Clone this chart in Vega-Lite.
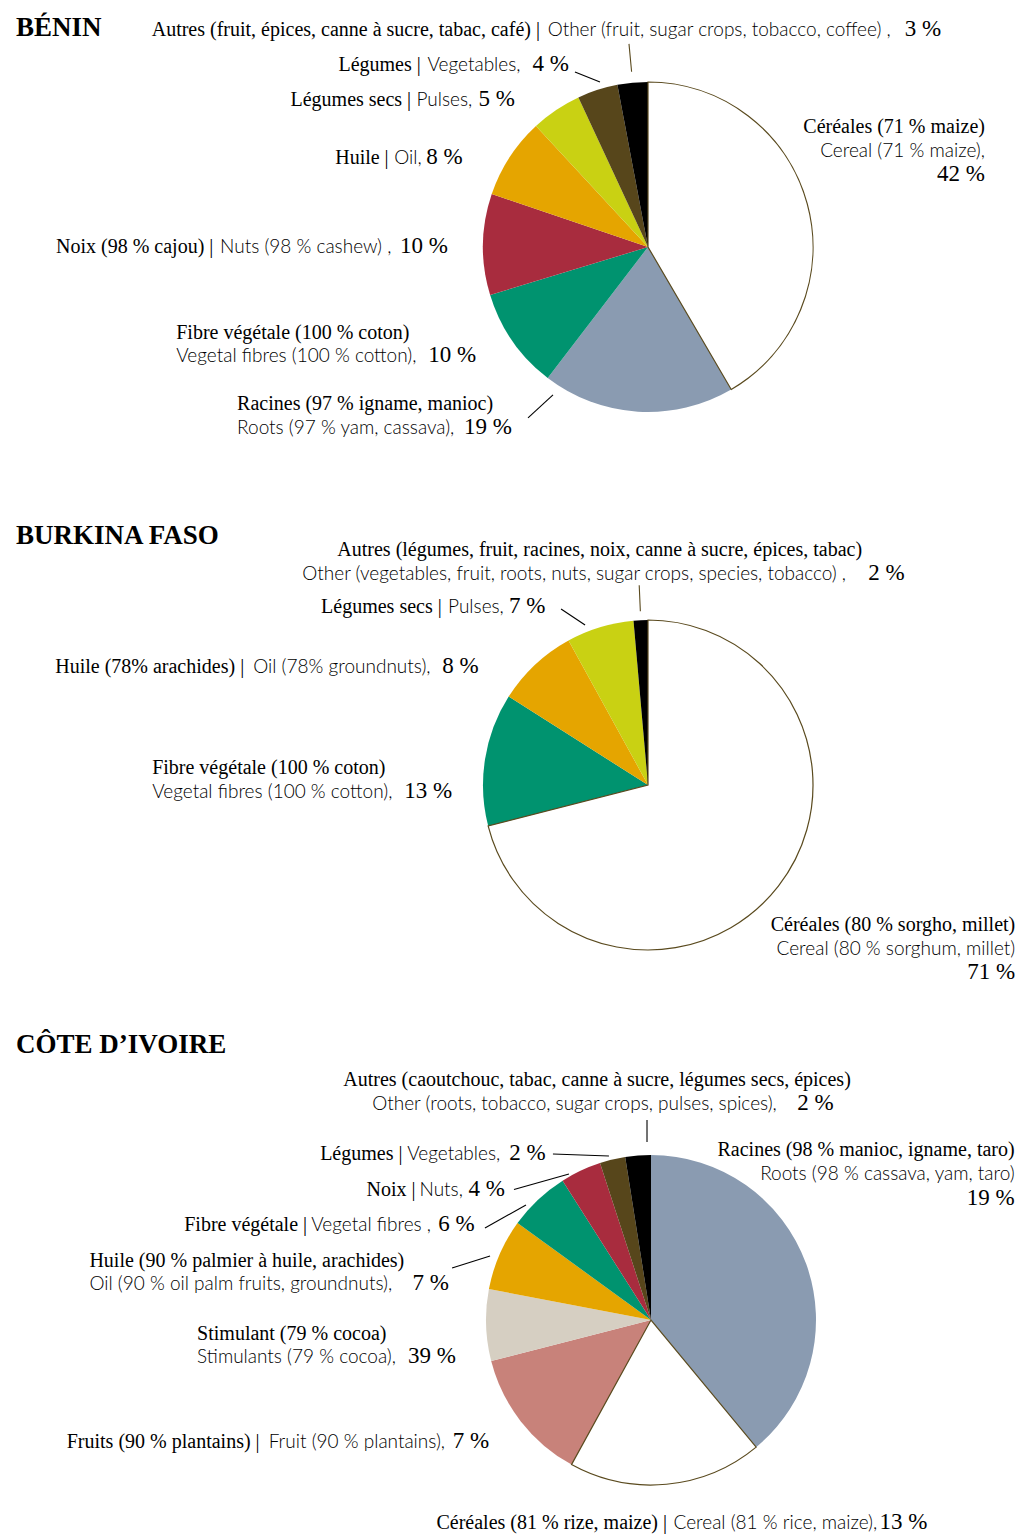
{
"$schema": "https://vega.github.io/schema/vega-lite/v6.json",
"width": 1018, "height": 1537, "padding": 0, "autosize": {"type": "none"},
"background": "white",
"config": {"view": {"stroke": null},
 "style": {
  "fr": {"font": "Liberation Serif", "fontSize": 20, "fill": "#161616", "align": "left", "baseline": "alphabetic"},
  "frR": {"font": "Liberation Serif", "fontSize": 20, "fill": "#161616", "align": "right", "baseline": "alphabetic"},
  "en": {"font": "Lato", "fontSize": 19, "fontWeight": 300, "fill": "#1c1c1c", "align": "left", "baseline": "alphabetic"},
  "enR": {"font": "Lato", "fontSize": 19, "fontWeight": 300, "fill": "#1c1c1c", "align": "right", "baseline": "alphabetic"},
  "pct": {"font": "Liberation Serif", "fontSize": 23, "fill": "#161616", "align": "left", "baseline": "alphabetic"},
  "pctR": {"font": "Liberation Serif", "fontSize": 23, "fill": "#161616", "align": "right", "baseline": "alphabetic"},
  "ttl": {"font": "Liberation Serif", "fontSize": 27, "fontWeight": "bold", "fill": "#111111", "align": "left", "baseline": "alphabetic"},
  "lead": {"stroke": "#5a4a1e", "strokeWidth": 1.1}
 }},
"datasets": {
 "benin": [
  {"rank": 1, "cat": "Céréales", "value": 42, "fr": "Céréales (71 % maize)", "en": "Cereal (71 % maize),", "pct": "42 %"},
  {"rank": 2, "cat": "Racines", "value": 19, "fr": "Racines (97 % igname, manioc)", "en": "Roots (97 % yam, cassava),", "pct": "19 %"},
  {"rank": 3, "cat": "Fibre", "value": 10, "fr": "Fibre végétale (100 % coton)", "en": "Vegetal fibres (100 % cotton),", "pct": "10 %"},
  {"rank": 4, "cat": "Noix", "value": 10, "fr": "Noix (98 % cajou) |", "en": "Nuts (98 % cashew) ,", "pct": "10 %"},
  {"rank": 5, "cat": "Huile", "value": 8, "fr": "Huile |", "en": "Oil,", "pct": "8 %"},
  {"rank": 6, "cat": "Légumes secs", "value": 5, "fr": "Légumes secs |", "en": "Pulses,", "pct": "5 %"},
  {"rank": 7, "cat": "Légumes", "value": 4, "fr": "Légumes |", "en": "Vegetables,", "pct": "4 %"},
  {"rank": 8, "cat": "Autres", "value": 3, "fr": "Autres (fruit, épices, canne à sucre, tabac, café) |", "en": "Other (fruit, sugar crops, tobacco, coffee) ,", "pct": "3 %"}
 ],
 "burkina": [
  {"rank": 1, "cat": "Céréales", "value": 71, "fr": "Céréales (80 % sorgho, millet)", "en": "Cereal (80 % sorghum, millet)", "pct": "71 %"},
  {"rank": 2, "cat": "Fibre", "value": 13, "fr": "Fibre végétale (100 % coton)", "en": "Vegetal fibres (100 % cotton),", "pct": "13 %"},
  {"rank": 3, "cat": "Huile", "value": 8, "fr": "Huile (78% arachides) |", "en": "Oil (78% groundnuts),", "pct": "8 %"},
  {"rank": 4, "cat": "Légumes secs", "value": 6.6, "fr": "Légumes secs |", "en": "Pulses,", "pct": "7 %"},
  {"rank": 5, "cat": "Autres", "value": 1.4, "fr": "Autres (légumes, fruit, racines, noix,  canne à sucre, épices, tabac)", "en": "Other (vegetables, fruit, roots, nuts, sugar crops, species, tobacco) ,", "pct": "2 %"}
 ],
 "ci": [
  {"rank": 1, "cat": "Racines", "value": 39, "fr": "Racines (98 % manioc, igname, taro)", "en": "Roots (98 % cassava, yam, taro)", "pct": "19 %"},
  {"rank": 2, "cat": "Céréales", "value": 19, "fr": "Céréales (81 % rize, maize) |", "en": "Cereal (81 % rice, maize),", "pct": "13 %"},
  {"rank": 3, "cat": "Fruits", "value": 13, "fr": "Fruits (90 % plantains) |", "en": "Fruit (90 % plantains),", "pct": "7 %"},
  {"rank": 4, "cat": "Stimulant", "value": 7, "fr": "Stimulant (79 % cocoa)", "en": "Stimulants (79 % cocoa),", "pct": "39 %"},
  {"rank": 5, "cat": "Huile", "value": 7, "fr": "Huile (90 % palmier à huile, arachides)", "en": "Oil (90 %  oil palm fruits, groundnuts),", "pct": "7 %"},
  {"rank": 6, "cat": "Fibre", "value": 6, "fr": "Fibre végétale |", "en": "Vegetal fibres ,", "pct": "6 %"},
  {"rank": 7, "cat": "Noix", "value": 4, "fr": "Noix |", "en": "Nuts,", "pct": "4 %"},
  {"rank": 8, "cat": "Légumes", "value": 2.5, "fr": "Légumes |", "en": "Vegetables,", "pct": "2 %"},
  {"rank": 9, "cat": "Autres", "value": 2.5, "fr": "Autres (caoutchouc, tabac,  canne à sucre, légumes secs, épices)", "en": "Other (roots, tobacco, sugar crops, pulses, spices),", "pct": "2 %"}
 ]
},
"resolve": {"scale": {"theta": "independent"}},
"layer": [
 {"data": {"values": [{"t": "BÉNIN"}]}, "mark": {"type": "text", "style": "ttl", "x": 16, "y": 36}, "encoding": {"text": {"field": "t"}}},
 {"data": {"values": [{"t": "BURKINA FASO"}]}, "mark": {"type": "text", "style": "ttl", "x": 16, "y": 544}, "encoding": {"text": {"field": "t"}}},
 {"data": {"values": [{"t": "CÔTE D’IVOIRE"}]}, "mark": {"type": "text", "style": "ttl", "x": 16, "y": 1053}, "encoding": {"text": {"field": "t"}}},
 {
  "data": {"name": "benin"},
  "transform": [
   {"stack": "value", "groupby": [], "sort": [{"field": "rank", "order": "ascending"}], "as": ["v0", "v1"]},
   {"calculate": "(datum.v0 + datum.v1) / 2", "as": "mid"},
   {"joinaggregate": [{"op": "sum", "field": "value", "as": "tot"}]},
   {"calculate": "648 + 172 * sin(2 * PI * datum.mid / datum.tot)", "as": "sx"},
   {"calculate": "247 - 172 * cos(2 * PI * datum.mid / datum.tot)", "as": "sy"}
  ],
  "layer": [
   {"mark": {"type": "arc", "x": 648, "y": 247, "radius": 165},
    "encoding": {"theta": {"field": "v1", "type": "quantitative", "stack": null}, "theta2": {"field": "v0"},
     "color": {"field": "cat", "type": "nominal", "legend": null,
      "scale": {"domain": ["Céréales", "Racines", "Fibre", "Noix", "Huile", "Légumes secs", "Légumes", "Autres", "Stimulant", "Fruits"],
       "range": ["#ffffff", "#8a9bb1", "#00936f", "#a82c3e", "#e5a500", "#c9d113", "#57461b", "#000000", "#d6cfc2", "#c8827a"]}}}},
   {"transform": [{"filter": "datum.cat === 'Céréales'"}],
    "mark": {"type": "arc", "x": 648, "y": 247, "radius": 165, "fill": "transparent", "stroke": "#5a4a1e", "strokeWidth": 1.2},
    "encoding": {"theta": {"field": "v1", "type": "quantitative", "stack": null}, "theta2": {"field": "v0"}}},
   {"transform": [{"filter": "datum.cat === 'Autres'"}],
    "mark": {"type": "arc", "x": 648, "y": 247, "radius": 204, "radius2": 176, "fill": "transparent", "stroke": "#5a4a1e", "strokeWidth": 1.1},
    "encoding": {"theta": {"field": "mid", "type": "quantitative", "stack": null}, "theta2": {"field": "mid"}}},
   {"transform": [{"filter": "datum.cat === 'Légumes'"}],
    "mark": {"type": "rule", "style": "lead", "xOffset": 4.6, "yOffset": -1.3, "x2Offset": -20.4, "y2Offset": -11.3},
    "encoding": {"x": {"field": "sx", "type": "quantitative", "scale": null}, "y": {"field": "sy", "type": "quantitative", "scale": null}, "x2": {"field": "sx"}, "y2": {"field": "sy"}}},
   {"transform": [{"filter": "datum.cat === 'Racines'"}],
    "mark": {"type": "rule", "style": "lead", "xOffset": -84.3, "yOffset": -23.7, "x2Offset": -109.3, "y2Offset": -0.7},
    "encoding": {"x": {"field": "sx", "type": "quantitative", "scale": null}, "y": {"field": "sy", "type": "quantitative", "scale": null}, "x2": {"field": "sx"}, "y2": {"field": "sy"}}},

   {"transform": [{"filter": "datum.cat === 'Céréales'"}], "mark": {"type": "text", "style": "frR", "x": 648, "y": 247, "radius": 175, "dx": 168, "dy": -68}, "encoding": {"theta": {"field": "mid", "type": "quantitative", "stack": null}, "text": {"field": "fr"}}},
   {"transform": [{"filter": "datum.cat === 'Céréales'"}], "mark": {"type": "text", "style": "enR", "x": 648, "y": 247, "radius": 175, "dx": 168, "dy": -44}, "encoding": {"theta": {"field": "mid", "type": "quantitative", "stack": null}, "text": {"field": "en"}}},
   {"transform": [{"filter": "datum.cat === 'Céréales'"}], "mark": {"type": "text", "style": "pctR", "x": 648, "y": 247, "radius": 175, "dx": 168, "dy": -20}, "encoding": {"theta": {"field": "mid", "type": "quantitative", "stack": null}, "text": {"field": "pct"}}},

   {"transform": [{"filter": "datum.cat === 'Racines'"}], "mark": {"type": "text", "style": "fr", "x": 648, "y": 247, "radius": 175, "dx": -400, "dy": -12}, "encoding": {"theta": {"field": "mid", "type": "quantitative", "stack": null}, "text": {"field": "fr"}}},
   {"transform": [{"filter": "datum.cat === 'Racines'"}], "mark": {"type": "text", "style": "en", "x": 648, "y": 247, "radius": 175, "dx": -400, "dy": 12}, "encoding": {"theta": {"field": "mid", "type": "quantitative", "stack": null}, "text": {"field": "en"}}},
   {"transform": [{"filter": "datum.cat === 'Racines'"}], "mark": {"type": "text", "style": "pct", "x": 648, "y": 247, "radius": 175, "dx": -173, "dy": 12}, "encoding": {"theta": {"field": "mid", "type": "quantitative", "stack": null}, "text": {"field": "pct"}}},

   {"transform": [{"filter": "datum.cat === 'Fibre'"}], "mark": {"type": "text", "style": "fr", "x": 648, "y": 247, "radius": 175, "dx": -328, "dy": -8}, "encoding": {"theta": {"field": "mid", "type": "quantitative", "stack": null}, "text": {"field": "fr"}}},
   {"transform": [{"filter": "datum.cat === 'Fibre'"}], "mark": {"type": "text", "style": "en", "x": 648, "y": 247, "radius": 175, "dx": -328, "dy": 15}, "encoding": {"theta": {"field": "mid", "type": "quantitative", "stack": null}, "text": {"field": "en"}}},
   {"transform": [{"filter": "datum.cat === 'Fibre'"}], "mark": {"type": "text", "style": "pct", "x": 648, "y": 247, "radius": 175, "dx": -76, "dy": 15}, "encoding": {"theta": {"field": "mid", "type": "quantitative", "stack": null}, "text": {"field": "pct"}}},

   {"transform": [{"filter": "datum.cat === 'Noix'"}], "mark": {"type": "text", "style": "fr", "x": 648, "y": 247, "radius": 175, "dx": -417, "dy": 9}, "encoding": {"theta": {"field": "mid", "type": "quantitative", "stack": null}, "text": {"field": "fr"}}},
   {"transform": [{"filter": "datum.cat === 'Noix'"}], "mark": {"type": "text", "style": "en", "x": 648, "y": 247, "radius": 175, "dx": -253, "dy": 9}, "encoding": {"theta": {"field": "mid", "type": "quantitative", "stack": null}, "text": {"field": "en"}}},
   {"transform": [{"filter": "datum.cat === 'Noix'"}], "mark": {"type": "text", "style": "pct", "x": 648, "y": 247, "radius": 175, "dx": -73, "dy": 9}, "encoding": {"theta": {"field": "mid", "type": "quantitative", "stack": null}, "text": {"field": "pct"}}},

   {"transform": [{"filter": "datum.cat === 'Huile'"}], "mark": {"type": "text", "style": "fr", "x": 648, "y": 247, "radius": 175, "dx": -166, "dy": 12}, "encoding": {"theta": {"field": "mid", "type": "quantitative", "stack": null}, "text": {"field": "fr"}}},
   {"transform": [{"filter": "datum.cat === 'Huile'"}], "mark": {"type": "text", "style": "en", "x": 648, "y": 247, "radius": 175, "dx": -107, "dy": 12}, "encoding": {"theta": {"field": "mid", "type": "quantitative", "stack": null}, "text": {"field": "en"}}},
   {"transform": [{"filter": "datum.cat === 'Huile'"}], "mark": {"type": "text", "style": "pct", "x": 648, "y": 247, "radius": 175, "dx": -75, "dy": 12}, "encoding": {"theta": {"field": "mid", "type": "quantitative", "stack": null}, "text": {"field": "pct"}}},

   {"transform": [{"filter": "datum.cat === 'Légumes secs'"}], "mark": {"type": "text", "style": "fr", "x": 648, "y": 247, "radius": 175, "dx": -260, "dy": 4}, "encoding": {"theta": {"field": "mid", "type": "quantitative", "stack": null}, "text": {"field": "fr"}}},
   {"transform": [{"filter": "datum.cat === 'Légumes secs'"}], "mark": {"type": "text", "style": "en", "x": 648, "y": 247, "radius": 175, "dx": -134, "dy": 4}, "encoding": {"theta": {"field": "mid", "type": "quantitative", "stack": null}, "text": {"field": "en"}}},
   {"transform": [{"filter": "datum.cat === 'Légumes secs'"}], "mark": {"type": "text", "style": "pct", "x": 648, "y": 247, "radius": 175, "dx": -72, "dy": 4}, "encoding": {"theta": {"field": "mid", "type": "quantitative", "stack": null}, "text": {"field": "pct"}}},

   {"transform": [{"filter": "datum.cat === 'Légumes'"}], "mark": {"type": "text", "style": "fr", "x": 648, "y": 247, "radius": 175, "dx": -256, "dy": -9}, "encoding": {"theta": {"field": "mid", "type": "quantitative", "stack": null}, "text": {"field": "fr"}}},
   {"transform": [{"filter": "datum.cat === 'Légumes'"}], "mark": {"type": "text", "style": "en", "x": 648, "y": 247, "radius": 175, "dx": -167, "dy": -9}, "encoding": {"theta": {"field": "mid", "type": "quantitative", "stack": null}, "text": {"field": "en"}}},
   {"transform": [{"filter": "datum.cat === 'Légumes'"}], "mark": {"type": "text", "style": "pct", "x": 648, "y": 247, "radius": 175, "dx": -62, "dy": -9}, "encoding": {"theta": {"field": "mid", "type": "quantitative", "stack": null}, "text": {"field": "pct"}}},

   {"transform": [{"filter": "datum.cat === 'Autres'"}], "mark": {"type": "text", "style": "fr", "x": 648, "y": 247, "radius": 175, "dx": -480, "dy": -37}, "encoding": {"theta": {"field": "mid", "type": "quantitative", "stack": null}, "text": {"field": "fr"}}},
   {"transform": [{"filter": "datum.cat === 'Autres'"}], "mark": {"type": "text", "style": "en", "x": 648, "y": 247, "radius": 175, "dx": -84, "dy": -37}, "encoding": {"theta": {"field": "mid", "type": "quantitative", "stack": null}, "text": {"field": "en"}}},
   {"transform": [{"filter": "datum.cat === 'Autres'"}], "mark": {"type": "text", "style": "pct", "x": 648, "y": 247, "radius": 175, "dx": 273, "dy": -37}, "encoding": {"theta": {"field": "mid", "type": "quantitative", "stack": null}, "text": {"field": "pct"}}}
  ]
 },
 {
  "data": {"name": "burkina"},
  "transform": [
   {"stack": "value", "groupby": [], "sort": [{"field": "rank", "order": "ascending"}], "as": ["v0", "v1"]},
   {"calculate": "(datum.v0 + datum.v1) / 2", "as": "mid"},
   {"joinaggregate": [{"op": "sum", "field": "value", "as": "tot"}]},
   {"calculate": "648 + 172 * sin(2 * PI * datum.mid / datum.tot)", "as": "sx"},
   {"calculate": "785 - 172 * cos(2 * PI * datum.mid / datum.tot)", "as": "sy"}
  ],
  "layer": [
   {"mark": {"type": "arc", "x": 648, "y": 785, "radius": 165},
    "encoding": {"theta": {"field": "v1", "type": "quantitative", "stack": null}, "theta2": {"field": "v0"},
     "color": {"field": "cat", "type": "nominal", "legend": null,
      "scale": {"domain": ["Céréales", "Racines", "Fibre", "Noix", "Huile", "Légumes secs", "Légumes", "Autres", "Stimulant", "Fruits"],
       "range": ["#ffffff", "#8a9bb1", "#00936f", "#a82c3e", "#e5a500", "#c9d113", "#57461b", "#000000", "#d6cfc2", "#c8827a"]}}}},
   {"transform": [{"filter": "datum.cat === 'Céréales'"}],
    "mark": {"type": "arc", "x": 648, "y": 785, "radius": 165, "fill": "transparent", "stroke": "#5a4a1e", "strokeWidth": 1.2},
    "encoding": {"theta": {"field": "v1", "type": "quantitative", "stack": null}, "theta2": {"field": "v0"}}},
   {"transform": [{"filter": "datum.cat === 'Autres'"}],
    "mark": {"type": "arc", "x": 648, "y": 785, "radius": 200, "radius2": 174, "fill": "transparent", "stroke": "#5a4a1e", "strokeWidth": 1.1},
    "encoding": {"theta": {"field": "mid", "type": "quantitative", "stack": null}, "theta2": {"field": "mid"}}},
   {"transform": [{"filter": "datum.cat === 'Légumes secs'"}],
    "mark": {"type": "rule", "style": "lead", "xOffset": -12.9, "yOffset": 4.6, "x2Offset": -36.9, "y2Offset": -11.4},
    "encoding": {"x": {"field": "sx", "type": "quantitative", "scale": null}, "y": {"field": "sy", "type": "quantitative", "scale": null}, "x2": {"field": "sx"}, "y2": {"field": "sy"}}},

   {"transform": [{"filter": "datum.cat === 'Céréales'"}], "mark": {"type": "text", "style": "frR", "x": 648, "y": 785, "radius": 175, "dx": 229, "dy": 39}, "encoding": {"theta": {"field": "mid", "type": "quantitative", "stack": null}, "text": {"field": "fr"}}},
   {"transform": [{"filter": "datum.cat === 'Céréales'"}], "mark": {"type": "text", "style": "enR", "x": 648, "y": 785, "radius": 175, "dx": 229, "dy": 63}, "encoding": {"theta": {"field": "mid", "type": "quantitative", "stack": null}, "text": {"field": "en"}}},
   {"transform": [{"filter": "datum.cat === 'Céréales'"}], "mark": {"type": "text", "style": "pctR", "x": 648, "y": 785, "radius": 175, "dx": 229, "dy": 87}, "encoding": {"theta": {"field": "mid", "type": "quantitative", "stack": null}, "text": {"field": "pct"}}},

   {"transform": [{"filter": "datum.cat === 'Fibre'"}], "mark": {"type": "text", "style": "fr", "x": 648, "y": 785, "radius": 175, "dx": -323, "dy": 16}, "encoding": {"theta": {"field": "mid", "type": "quantitative", "stack": null}, "text": {"field": "fr"}}},
   {"transform": [{"filter": "datum.cat === 'Fibre'"}], "mark": {"type": "text", "style": "en", "x": 648, "y": 785, "radius": 175, "dx": -323, "dy": 40}, "encoding": {"theta": {"field": "mid", "type": "quantitative", "stack": null}, "text": {"field": "en"}}},
   {"transform": [{"filter": "datum.cat === 'Fibre'"}], "mark": {"type": "text", "style": "pct", "x": 648, "y": 785, "radius": 175, "dx": -71, "dy": 40}, "encoding": {"theta": {"field": "mid", "type": "quantitative", "stack": null}, "text": {"field": "pct"}}},

   {"transform": [{"filter": "datum.cat === 'Huile'"}], "mark": {"type": "text", "style": "fr", "x": 648, "y": 785, "radius": 175, "dx": -473, "dy": 16}, "encoding": {"theta": {"field": "mid", "type": "quantitative", "stack": null}, "text": {"field": "fr"}}},
   {"transform": [{"filter": "datum.cat === 'Huile'"}], "mark": {"type": "text", "style": "en", "x": 648, "y": 785, "radius": 175, "dx": -275, "dy": 16}, "encoding": {"theta": {"field": "mid", "type": "quantitative", "stack": null}, "text": {"field": "en"}}},
   {"transform": [{"filter": "datum.cat === 'Huile'"}], "mark": {"type": "text", "style": "pct", "x": 648, "y": 785, "radius": 175, "dx": -86, "dy": 16}, "encoding": {"theta": {"field": "mid", "type": "quantitative", "stack": null}, "text": {"field": "pct"}}},

   {"transform": [{"filter": "datum.cat === 'Légumes secs'"}], "mark": {"type": "text", "style": "fr", "x": 648, "y": 785, "radius": 175, "dx": -276, "dy": -5}, "encoding": {"theta": {"field": "mid", "type": "quantitative", "stack": null}, "text": {"field": "fr"}}},
   {"transform": [{"filter": "datum.cat === 'Légumes secs'"}], "mark": {"type": "text", "style": "en", "x": 648, "y": 785, "radius": 175, "dx": -149, "dy": -5}, "encoding": {"theta": {"field": "mid", "type": "quantitative", "stack": null}, "text": {"field": "en"}}},
   {"transform": [{"filter": "datum.cat === 'Légumes secs'"}], "mark": {"type": "text", "style": "pct", "x": 648, "y": 785, "radius": 175, "dx": -88, "dy": -5}, "encoding": {"theta": {"field": "mid", "type": "quantitative", "stack": null}, "text": {"field": "pct"}}},

   {"transform": [{"filter": "datum.cat === 'Autres'"}], "mark": {"type": "text", "style": "fr", "x": 648, "y": 785, "radius": 175, "dx": -303, "dy": -54}, "encoding": {"theta": {"field": "mid", "type": "quantitative", "stack": null}, "text": {"field": "fr"}}},
   {"transform": [{"filter": "datum.cat === 'Autres'"}], "mark": {"type": "text", "style": "en", "x": 648, "y": 785, "radius": 175, "dx": -338, "dy": -30}, "encoding": {"theta": {"field": "mid", "type": "quantitative", "stack": null}, "text": {"field": "en"}}},
   {"transform": [{"filter": "datum.cat === 'Autres'"}], "mark": {"type": "text", "style": "pct", "x": 648, "y": 785, "radius": 175, "dx": 228, "dy": -30}, "encoding": {"theta": {"field": "mid", "type": "quantitative", "stack": null}, "text": {"field": "pct"}}}
  ]
 },
 {
  "data": {"name": "ci"},
  "transform": [
   {"stack": "value", "groupby": [], "sort": [{"field": "rank", "order": "ascending"}], "as": ["v0", "v1"]},
   {"calculate": "(datum.v0 + datum.v1) / 2", "as": "mid"},
   {"joinaggregate": [{"op": "sum", "field": "value", "as": "tot"}]},
   {"calculate": "651 + 172 * sin(2 * PI * datum.mid / datum.tot)", "as": "sx"},
   {"calculate": "1320 - 172 * cos(2 * PI * datum.mid / datum.tot)", "as": "sy"}
  ],
  "layer": [
   {"mark": {"type": "arc", "x": 651, "y": 1320, "radius": 165},
    "encoding": {"theta": {"field": "v1", "type": "quantitative", "stack": null}, "theta2": {"field": "v0"},
     "color": {"field": "cat", "type": "nominal", "legend": null,
      "scale": {"domain": ["Céréales", "Racines", "Fibre", "Noix", "Huile", "Légumes secs", "Légumes", "Autres", "Stimulant", "Fruits"],
       "range": ["#ffffff", "#8a9bb1", "#00936f", "#a82c3e", "#e5a500", "#c9d113", "#57461b", "#000000", "#d6cfc2", "#c8827a"]}}}},
   {"transform": [{"filter": "datum.cat === 'Céréales'"}],
    "mark": {"type": "arc", "x": 651, "y": 1320, "radius": 165, "fill": "transparent", "stroke": "#5a4a1e", "strokeWidth": 1.2},
    "encoding": {"theta": {"field": "v1", "type": "quantitative", "stack": null}, "theta2": {"field": "v0"}}},
   {"transform": [{"filter": "datum.cat === 'Autres'"}],
    "mark": {"type": "rule", "style": "lead", "xOffset": 9.5, "yOffset": -6.5, "x2Offset": 9.5, "y2Offset": -28.5},
    "encoding": {"x": {"field": "sx", "type": "quantitative", "scale": null}, "y": {"field": "sy", "type": "quantitative", "scale": null}, "x2": {"field": "sx"}, "y2": {"field": "sy"}}},
   {"transform": [{"filter": "datum.cat === 'Légumes'"}],
    "mark": {"type": "rule", "style": "lead", "xOffset": -1.9, "yOffset": 3.3, "x2Offset": -57.9, "y2Offset": 1.3},
    "encoding": {"x": {"field": "sx", "type": "quantitative", "scale": null}, "y": {"field": "sy", "type": "quantitative", "scale": null}, "x2": {"field": "sx"}, "y2": {"field": "sy"}}},
   {"transform": [{"filter": "datum.cat === 'Noix'"}],
    "mark": {"type": "rule", "style": "lead", "xOffset": -8.8, "yOffset": 9.6, "x2Offset": -63.8, "y2Offset": 25.1},
    "encoding": {"x": {"field": "sx", "type": "quantitative", "scale": null}, "y": {"field": "sy", "type": "quantitative", "scale": null}, "x2": {"field": "sx"}, "y2": {"field": "sy"}}},
   {"transform": [{"filter": "datum.cat === 'Fibre'"}],
    "mark": {"type": "rule", "style": "lead", "xOffset": -7.3, "yOffset": 10.4, "x2Offset": -48.3, "y2Offset": 33.4},
    "encoding": {"x": {"field": "sx", "type": "quantitative", "scale": null}, "y": {"field": "sy", "type": "quantitative", "scale": null}, "x2": {"field": "sx"}, "y2": {"field": "sy"}}},
   {"transform": [{"filter": "datum.cat === 'Huile'"}],
    "mark": {"type": "rule", "style": "lead", "xOffset": -3.1, "yOffset": 4.3, "x2Offset": -41.1, "y2Offset": 16.3},
    "encoding": {"x": {"field": "sx", "type": "quantitative", "scale": null}, "y": {"field": "sy", "type": "quantitative", "scale": null}, "x2": {"field": "sx"}, "y2": {"field": "sy"}}},

   {"transform": [{"filter": "datum.cat === 'Racines'"}], "mark": {"type": "text", "style": "frR", "x": 651, "y": 1320, "radius": 175, "dx": 199, "dy": -105}, "encoding": {"theta": {"field": "mid", "type": "quantitative", "stack": null}, "text": {"field": "fr"}}},
   {"transform": [{"filter": "datum.cat === 'Racines'"}], "mark": {"type": "text", "style": "enR", "x": 651, "y": 1320, "radius": 175, "dx": 199, "dy": -81}, "encoding": {"theta": {"field": "mid", "type": "quantitative", "stack": null}, "text": {"field": "en"}}},
   {"transform": [{"filter": "datum.cat === 'Racines'"}], "mark": {"type": "text", "style": "pctR", "x": 651, "y": 1320, "radius": 175, "dx": 199, "dy": -56}, "encoding": {"theta": {"field": "mid", "type": "quantitative", "stack": null}, "text": {"field": "pct"}}},

   {"transform": [{"filter": "datum.cat === 'Céréales'"}], "mark": {"type": "text", "style": "fr", "x": 651, "y": 1320, "radius": 175, "dx": -231, "dy": 35}, "encoding": {"theta": {"field": "mid", "type": "quantitative", "stack": null}, "text": {"field": "fr"}}},
   {"transform": [{"filter": "datum.cat === 'Céréales'"}], "mark": {"type": "text", "style": "en", "x": 651, "y": 1320, "radius": 175, "dx": 6, "dy": 35}, "encoding": {"theta": {"field": "mid", "type": "quantitative", "stack": null}, "text": {"field": "en"}}},
   {"transform": [{"filter": "datum.cat === 'Céréales'"}], "mark": {"type": "text", "style": "pct", "x": 651, "y": 1320, "radius": 175, "dx": 212, "dy": 35}, "encoding": {"theta": {"field": "mid", "type": "quantitative", "stack": null}, "text": {"field": "pct"}}},

   {"transform": [{"filter": "datum.cat === 'Fruits'"}], "mark": {"type": "text", "style": "fr", "x": 651, "y": 1320, "radius": 175, "dx": -446, "dy": 21}, "encoding": {"theta": {"field": "mid", "type": "quantitative", "stack": null}, "text": {"field": "fr"}}},
   {"transform": [{"filter": "datum.cat === 'Fruits'"}], "mark": {"type": "text", "style": "en", "x": 651, "y": 1320, "radius": 175, "dx": -244, "dy": 21}, "encoding": {"theta": {"field": "mid", "type": "quantitative", "stack": null}, "text": {"field": "en"}}},
   {"transform": [{"filter": "datum.cat === 'Fruits'"}], "mark": {"type": "text", "style": "pct", "x": 651, "y": 1320, "radius": 175, "dx": -60, "dy": 21}, "encoding": {"theta": {"field": "mid", "type": "quantitative", "stack": null}, "text": {"field": "pct"}}},

   {"transform": [{"filter": "datum.cat === 'Stimulant'"}], "mark": {"type": "text", "style": "fr", "x": 651, "y": 1320, "radius": 175, "dx": -279, "dy": 15}, "encoding": {"theta": {"field": "mid", "type": "quantitative", "stack": null}, "text": {"field": "fr"}}},
   {"transform": [{"filter": "datum.cat === 'Stimulant'"}], "mark": {"type": "text", "style": "en", "x": 651, "y": 1320, "radius": 175, "dx": -279, "dy": 38}, "encoding": {"theta": {"field": "mid", "type": "quantitative", "stack": null}, "text": {"field": "en"}}},
   {"transform": [{"filter": "datum.cat === 'Stimulant'"}], "mark": {"type": "text", "style": "pct", "x": 651, "y": 1320, "radius": 175, "dx": -68, "dy": 38}, "encoding": {"theta": {"field": "mid", "type": "quantitative", "stack": null}, "text": {"field": "pct"}}},

   {"transform": [{"filter": "datum.cat === 'Huile'"}], "mark": {"type": "text", "style": "fr", "x": 651, "y": 1320, "radius": 175, "dx": -401, "dy": 17}, "encoding": {"theta": {"field": "mid", "type": "quantitative", "stack": null}, "text": {"field": "fr"}}},
   {"transform": [{"filter": "datum.cat === 'Huile'"}], "mark": {"type": "text", "style": "en", "x": 651, "y": 1320, "radius": 175, "dx": -401, "dy": 40}, "encoding": {"theta": {"field": "mid", "type": "quantitative", "stack": null}, "text": {"field": "en"}}},
   {"transform": [{"filter": "datum.cat === 'Huile'"}], "mark": {"type": "text", "style": "pct", "x": 651, "y": 1320, "radius": 175, "dx": -78, "dy": 40}, "encoding": {"theta": {"field": "mid", "type": "quantitative", "stack": null}, "text": {"field": "pct"}}},

   {"transform": [{"filter": "datum.cat === 'Fibre'"}], "mark": {"type": "text", "style": "fr", "x": 651, "y": 1320, "radius": 175, "dx": -347, "dy": 39}, "encoding": {"theta": {"field": "mid", "type": "quantitative", "stack": null}, "text": {"field": "fr"}}},
   {"transform": [{"filter": "datum.cat === 'Fibre'"}], "mark": {"type": "text", "style": "en", "x": 651, "y": 1320, "radius": 175, "dx": -220, "dy": 39}, "encoding": {"theta": {"field": "mid", "type": "quantitative", "stack": null}, "text": {"field": "en"}}},
   {"transform": [{"filter": "datum.cat === 'Fibre'"}], "mark": {"type": "text", "style": "pct", "x": 651, "y": 1320, "radius": 175, "dx": -93, "dy": 39}, "encoding": {"theta": {"field": "mid", "type": "quantitative", "stack": null}, "text": {"field": "pct"}}},

   {"transform": [{"filter": "datum.cat === 'Noix'"}], "mark": {"type": "text", "style": "fr", "x": 651, "y": 1320, "radius": 175, "dx": -210, "dy": 34}, "encoding": {"theta": {"field": "mid", "type": "quantitative", "stack": null}, "text": {"field": "fr"}}},
   {"transform": [{"filter": "datum.cat === 'Noix'"}], "mark": {"type": "text", "style": "en", "x": 651, "y": 1320, "radius": 175, "dx": -157, "dy": 34}, "encoding": {"theta": {"field": "mid", "type": "quantitative", "stack": null}, "text": {"field": "en"}}},
   {"transform": [{"filter": "datum.cat === 'Noix'"}], "mark": {"type": "text", "style": "pct", "x": 651, "y": 1320, "radius": 175, "dx": -108, "dy": 34}, "encoding": {"theta": {"field": "mid", "type": "quantitative", "stack": null}, "text": {"field": "pct"}}},

   {"transform": [{"filter": "datum.cat === 'Légumes'"}], "mark": {"type": "text", "style": "fr", "x": 651, "y": 1320, "radius": 175, "dx": -290, "dy": 10}, "encoding": {"theta": {"field": "mid", "type": "quantitative", "stack": null}, "text": {"field": "fr"}}},
   {"transform": [{"filter": "datum.cat === 'Légumes'"}], "mark": {"type": "text", "style": "en", "x": 651, "y": 1320, "radius": 175, "dx": -203, "dy": 10}, "encoding": {"theta": {"field": "mid", "type": "quantitative", "stack": null}, "text": {"field": "en"}}},
   {"transform": [{"filter": "datum.cat === 'Légumes'"}], "mark": {"type": "text", "style": "pct", "x": 651, "y": 1320, "radius": 175, "dx": -101, "dy": 10}, "encoding": {"theta": {"field": "mid", "type": "quantitative", "stack": null}, "text": {"field": "pct"}}},

   {"transform": [{"filter": "datum.cat === 'Autres'"}], "mark": {"type": "text", "style": "fr", "x": 651, "y": 1320, "radius": 175, "dx": -294, "dy": -60}, "encoding": {"theta": {"field": "mid", "type": "quantitative", "stack": null}, "text": {"field": "fr"}}},
   {"transform": [{"filter": "datum.cat === 'Autres'"}], "mark": {"type": "text", "style": "en", "x": 651, "y": 1320, "radius": 175, "dx": -265, "dy": -36}, "encoding": {"theta": {"field": "mid", "type": "quantitative", "stack": null}, "text": {"field": "en"}}},
   {"transform": [{"filter": "datum.cat === 'Autres'"}], "mark": {"type": "text", "style": "pct", "x": 651, "y": 1320, "radius": 175, "dx": 160, "dy": -36}, "encoding": {"theta": {"field": "mid", "type": "quantitative", "stack": null}, "text": {"field": "pct"}}}
  ]
 }
]
}
